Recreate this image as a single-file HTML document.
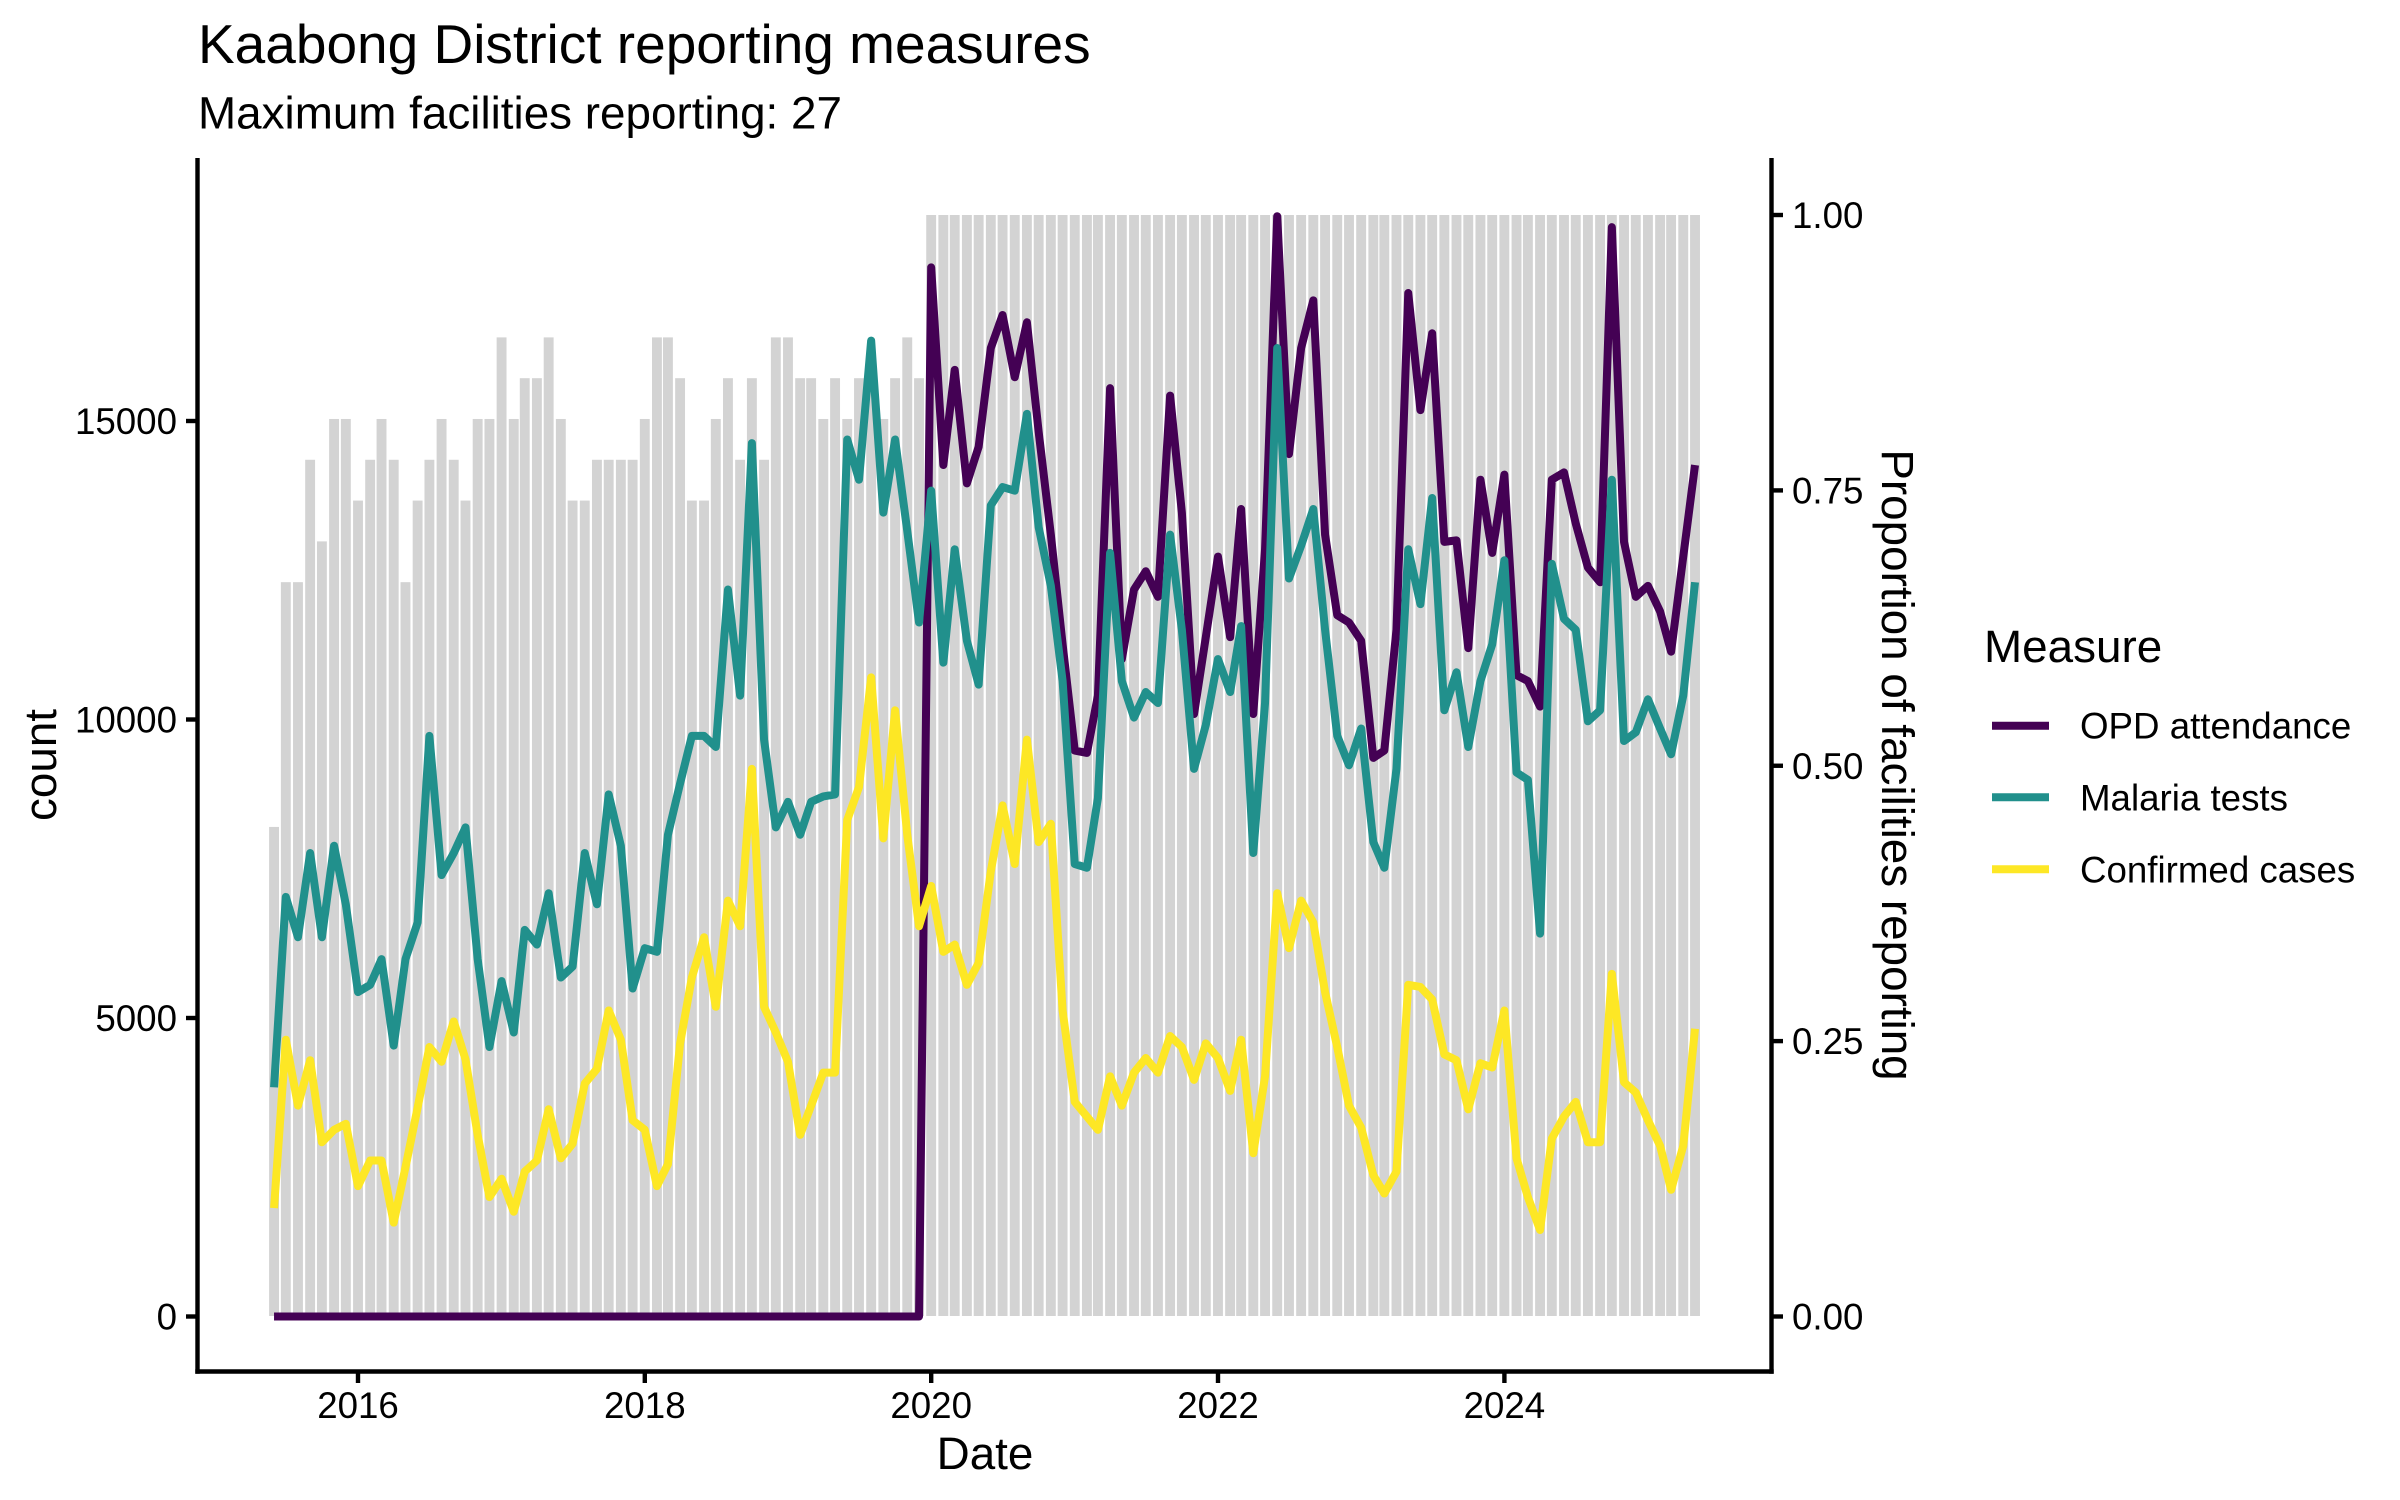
<!DOCTYPE html>
<html>
<head>
<meta charset="utf-8">
<style>
  html, body { margin: 0; padding: 0; background: #ffffff; }
  svg { display: block; }
  text { font-family: "Liberation Sans", Arial, sans-serif; fill: #000; }
</style>
</head>
<body>
<svg id="s" width="2400" height="1500" viewBox="0 0 2400 1500" xmlns="http://www.w3.org/2000/svg">
  <rect x="0" y="0" width="2400" height="1500" fill="#ffffff"/>
  <!-- Title -->
  <text x="198" y="63" font-size="55">Kaabong District reporting measures</text>
  <text x="198" y="128.5" font-size="45.8">Maximum facilities reporting: 27</text>

  <g id="bars"></g>
  <g id="lines" fill="none" stroke-linejoin="round" stroke-linecap="butt" stroke-width="8"></g>

  <!-- Axes lines -->
  <g stroke="#000" stroke-width="4.4" fill="none">
    <line x1="197.5" y1="158" x2="197.5" y2="1373.7"/>
    <line x1="195.3" y1="1371.5" x2="1773.7" y2="1371.5"/>
    <line x1="1771.5" y1="158" x2="1771.5" y2="1373.7"/>
    <!-- left ticks -->
    <line x1="186" y1="1316.5" x2="197.5" y2="1316.5"/>
    <line x1="186" y1="1018" x2="197.5" y2="1018"/>
    <line x1="186" y1="719.5" x2="197.5" y2="719.5"/>
    <line x1="186" y1="421" x2="197.5" y2="421"/>
    <!-- right ticks -->
    <line x1="1771.5" y1="1316.5" x2="1783" y2="1316.5"/>
    <line x1="1771.5" y1="1041.1" x2="1783" y2="1041.1"/>
    <line x1="1771.5" y1="765.75" x2="1783" y2="765.75"/>
    <line x1="1771.5" y1="490.4" x2="1783" y2="490.4"/>
    <line x1="1771.5" y1="215" x2="1783" y2="215"/>
    <!-- bottom ticks -->
    <line x1="358" y1="1371.5" x2="358" y2="1383"/>
    <line x1="644.8" y1="1371.5" x2="644.8" y2="1383"/>
    <line x1="931.2" y1="1371.5" x2="931.2" y2="1383"/>
    <line x1="1218" y1="1371.5" x2="1218" y2="1383"/>
    <line x1="1504.4" y1="1371.5" x2="1504.4" y2="1383"/>
  </g>

  <!-- Left tick labels -->
  <g font-size="36.7" text-anchor="end" fill="#111">
    <text x="177" y="1329.5">0</text>
    <text x="177" y="1031">5000</text>
    <text x="177" y="732.5">10000</text>
    <text x="177" y="434">15000</text>
  </g>
  <!-- Right tick labels -->
  <g font-size="36.7" text-anchor="start">
    <text x="1792" y="1329.5">0.00</text>
    <text x="1792" y="1054.1">0.25</text>
    <text x="1792" y="778.75">0.50</text>
    <text x="1792" y="503.4">0.75</text>
    <text x="1792" y="228">1.00</text>
  </g>
  <!-- Bottom tick labels -->
  <g font-size="36.7" text-anchor="middle">
    <text x="358" y="1418">2016</text>
    <text x="644.8" y="1418">2018</text>
    <text x="931.2" y="1418">2020</text>
    <text x="1218" y="1418">2022</text>
    <text x="1504.4" y="1418">2024</text>
  </g>

  <!-- Axis titles -->
  <text x="985" y="1469" font-size="45.8" text-anchor="middle">Date</text>
  <text transform="translate(56,765) rotate(-90)" font-size="45.8" text-anchor="middle">count</text>
  <text transform="translate(1882,765) rotate(90)" font-size="45.8" text-anchor="middle">Proportion of facilities reporting</text>

  <!-- Legend -->
  <text x="1984" y="662" font-size="45.8">Measure</text>
  <g stroke-width="8" fill="none">
    <line x1="1992" y1="725.7" x2="2049" y2="725.7" stroke="#440154"/>
    <line x1="1992" y1="797.3" x2="2049" y2="797.3" stroke="#21908C"/>
    <line x1="1992" y1="869.3" x2="2049" y2="869.3" stroke="#FDE725"/>
  </g>
  <g font-size="36.7">
    <text x="2080" y="738.7">OPD attendance</text>
    <text x="2080" y="810.3">Malaria tests</text>
    <text x="2080" y="882.3">Confirmed cases</text>
  </g>
</svg>

<script>
(function(){
  var NS = "http://www.w3.org/2000/svg";
  var B = [12,18,18,21,19,22,22,20,21,22,
           21,18,20,21,22,21,20,22,22,24,
           22,23,23,24,22,20,20,21,21,21,
           21,22,24,24,23,20,20,22,23,21,
           23,21,24,24,23,23,22,23,22,23,
           23,22,23,24,23];
  while (B.length < 120) B.push(27);

  var T = [3839,7028,6353,7763,6353,7885,6900,5434,5556,5986,
    4538,5986,6600,9725,7395,7763,8193,5986,4514,5618,
    4758,6476,6230,7089,5678,5862,7763,6905,8745,7885,
    5494,6170,6108,8069,8928,9725,9725,9540,12177,10400,
    14630,9663,8193,8621,8069,8621,8711,8745,14690,14017,
    16347,13465,14690,13159,11625,13833,10952,12851,11319,10584,
    13587,13894,13833,15120,13219,12239,10644,7579,7517,8683,
    12791,10644,10032,10460,10276,13097,11503,9173,9908,11012,
    10460,11564,7763,10276,16223,12361,12913,13526,11503,9725,
    9234,9848,7947,7517,9173,12851,11932,13710,10154,10791,
    9540,10644,11258,12667,9112,8989,6414,12606,11687,11503,
    9970,10154,14017,9639,9785,10338,9848,9418,10400,12299];

  var Y = [1816,4636,3532,4292,2919,3127,3227,2184,2612,2612,
    1572,2500,3500,4514,4267,4942,4308,3043,2000,2307,
    1755,2428,2612,3471,2650,2893,3901,4147,5126,4636,
    3287,3127,2184,2551,4575,5678,6353,5188,6966,6537,
    9173,5188,4758,4267,3043,3532,4085,4085,8315,8867,
    10706,8009,10154,8069,6537,7211,6108,6230,5556,5924,
    7457,8561,7579,9663,7947,8253,5126,3595,3349,3127,
    4023,3532,4085,4330,4085,4698,4514,3963,4575,4330,
    3779,4636,2735,4023,7089,6170,6966,6598,5434,4514,
    3532,3164,2368,2060,2428,5556,5520,5310,4391,4292,
    3471,4243,4170,5126,2650,2000,1448,2980,3349,3595,
    2919,2919,5740,3924,3752,3287,2859,2123,2859,4820];

  var P = [];
  for (var k = 0; k < 55; k++) P.push(0);
  P = P.concat([17573,14262,15856,13955,14568,
    16223,16775,15733,16653,14814,13097,11258,9480,9440,10400,
    15550,11012,12177,12483,12055,15426,13465,10092,11380,12729,
    11380,13526,10092,12851,18430,14446,16223,17021,13097,11747,
    11625,11319,9357,9480,11503,17143,15182,16469,12975,13000,
    11196,14017,12791,14102,10743,10644,10216,14017,14139,13281,
    12545,12299,18247,12975,12055,12239,11809,11136,12729,14262]);

  var base = Date.UTC(2016,0,1);
  function xAt(i){
    var d = (Date.UTC(2015, 5 + i, 1) - base) / 864e5;
    return 358 + d * 0.39232;
  }
  function yC(v){ return 1316.5 - v * 0.0597; }
  function yP(p){ return 1316.5 - p * 1101.5; }

  var bars = document.getElementById("bars");
  var bw = 9.89;
  for (var i = 0; i < 120; i++){
    var x = xAt(i);
    var top = yP(B[i] / 27);
    var r = document.createElementNS(NS, "rect");
    r.setAttribute("x", (x - bw/2).toFixed(2));
    r.setAttribute("y", top.toFixed(2));
    r.setAttribute("width", bw.toFixed(2));
    r.setAttribute("height", (1316 - top).toFixed(2));
    r.setAttribute("fill", "#D3D3D3");
    bars.appendChild(r);
  }

  var lines = document.getElementById("lines");
  function addLine(arr, color){
    var d = "";
    for (var i = 0; i < arr.length; i++){
      d += (i === 0 ? "M" : "L") + xAt(i).toFixed(2) + "," + yC(arr[i]).toFixed(2);
    }
    var p = document.createElementNS(NS, "path");
    p.setAttribute("d", d);
    p.setAttribute("stroke", color);
    lines.appendChild(p);
  }
  addLine(P, "#440154");
  addLine(T, "#21908C");
  addLine(Y, "#FDE725");
})();
</script>
</body>
</html>
